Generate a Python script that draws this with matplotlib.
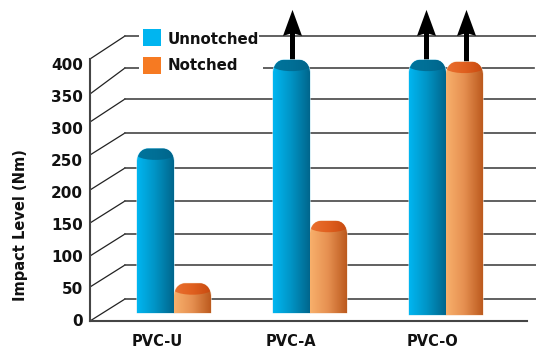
"""Impact level of PVC grades, drawn as 3D-style cylinders on a perspective wall."""

import matplotlib

matplotlib.use("Agg")
import matplotlib.pyplot as plt
import numpy as np
from matplotlib.colors import LinearSegmentedColormap
from matplotlib.patches import PathPatch, Rectangle
from matplotlib.path import Path

categories = ["PVC-U", "PVC-A", "PVC-O"]
unnotched = [250, 385, 385]
notched = [45, 140, 382]
unnotched_off_scale = [False, True, True]
notched_off_scale = [False, False, True]
tick_values = [0, 50, 100, 150, 200, 250, 300, 350, 400]

# frame layout in pixels, bottom tick first
WALL_Y = [299, 265, 234, 201, 168, 133, 99, 68, 36]
FRONT_Y = [321, 287, 256, 223, 190, 155, 122, 94, 59]
LABEL_Y = [322, 290, 257, 226, 194, 162, 130, 97, 65]
WALL_X = 125
FRONT_X = 90
LABEL_X = [157, 290.5, 433]

W, H = 536, 354
BASE_PX = 313
PX_PER_VALUE = 0.6575
PX_PER_CAT = 136
FIRST_CAT_PX = 174
BAR_W = 37 / PX_PER_CAT
BASE_DROP = [0, 0, -3]

LINE = "#454545"
FONT = "DejaVu Sans"

BLUE = LinearSegmentedColormap.from_list("blue", ["#00b6f1", "#0093c4", "#00668c"])
BLUE_CAP = LinearSegmentedColormap.from_list("blue_cap", ["#00749c", "#006f96", "#00648a"])
ORANGE = LinearSegmentedColormap.from_list("orange", ["#f8b06c", "#e58f50", "#bc5a1e"])
ORANGE_CAP = LinearSegmentedColormap.from_list("orange_cap", ["#ea7030", "#e0601f", "#c84a10"])


def dome_path(x0, x1, top, base, dome):
    w = x1 - x0
    return Path(
        [(x0, base), (x0, top - dome), (x0, top - dome * 0.45), (x0 + 0.13 * w, top), (x0 + 0.3 * w, top),
         (x1 - 0.3 * w, top), (x1 - 0.13 * w, top), (x1, top - dome * 0.45), (x1, top - dome),
         (x1, base), (x0, base)],
        [Path.MOVETO, Path.LINETO, Path.CURVE4, Path.CURVE4, Path.CURVE4, Path.LINETO,
         Path.CURVE4, Path.CURVE4, Path.CURVE4, Path.LINETO, Path.CLOSEPOLY],
    )


def cap_path(x0, x1, top, dome):
    # dome outline above, shallow curve below so the cap reads as an ellipse
    w = x1 - x0
    left, right = x0 + 0.03 * w, x1 - 0.03 * w
    shoulder = top - dome * 0.62
    belly = top - dome * 0.95
    return Path(
        [(left, shoulder), (x0 + 0.05 * w, top - dome * 0.3), (x0 + 0.15 * w, top), (x0 + 0.3 * w, top),
         (x1 - 0.3 * w, top), (x1 - 0.15 * w, top), (x1 - 0.05 * w, top - dome * 0.3), (right, shoulder),
         (right - 0.2 * w, belly), (left + 0.2 * w, belly), (left, shoulder), (left, shoulder)],
        [Path.MOVETO, Path.CURVE4, Path.CURVE4, Path.CURVE4, Path.LINETO,
         Path.CURVE4, Path.CURVE4, Path.CURVE4, Path.CURVE4, Path.CURVE4, Path.CURVE4, Path.CLOSEPOLY],
    )


def shaded(ax, path, cmap, extent, zorder, edge="none"):
    patch = PathPatch(path, transform=ax.transData, facecolor="none", edgecolor=edge, lw=0.8, zorder=zorder - 0.5)
    ax.add_patch(patch)
    img = ax.imshow(
        np.linspace(0, 1, 128)[None, :], cmap=cmap, extent=extent, aspect="auto",
        interpolation="bilinear", zorder=zorder,
    )
    img.set_clip_path(patch)


def draw_cylinders(ax, rects, cmap, cap_cmap, off_scale, nudge, halo):
    dome = 13 / PX_PER_VALUE
    for rect, flag, dx in zip(rects, off_scale, nudge):
        x0, x1 = rect.get_x(), rect.get_x() + rect.get_width()
        base, top = rect.get_y(), rect.get_y() + rect.get_height()
        if flag:
            # shaft starts just inside the cap and runs off the scale
            ax.arrow(
                (x0 + x1) / 2 + dx / PX_PER_CAT, top - 5, 0, 461 - top + 5,
                width=5 / PX_PER_CAT, head_width=19 / PX_PER_CAT, head_length=26 / PX_PER_VALUE,
                length_includes_head=True, overhang=0.08, color="black", lw=0, zorder=3,
            )
        shaded(ax, dome_path(x0, x1, top, base, dome), cmap, (x0, x1, base, top), 4, edge=halo)
        shaded(ax, cap_path(x0, x1, top, dome), cap_cmap, (x0, x1, top - dome, top), 5)


def draw_frame(ax):
    for wall_y, front_y in zip(WALL_Y, FRONT_Y):
        ax.plot([FRONT_X, WALL_X], [front_y, wall_y], color="#222222", lw=0.9, zorder=1)
    for i, wall_y in enumerate(WALL_Y):
        ax.plot([WALL_X, 534 if i == 7 else 536], [wall_y, wall_y], color=LINE, lw=1.2, zorder=1)
    ax.plot([FRONT_X, FRONT_X], [FRONT_Y[-1], FRONT_Y[0]], color=LINE, lw=1.5, zorder=1)
    ax.plot([FRONT_X, 527], [FRONT_Y[0], FRONT_Y[0]], color=LINE, lw=1.5, zorder=1)

    for value, y in zip(tick_values, LABEL_Y):
        ax.text(83, y, str(value), ha="right", va="center", fontsize=11, fontweight="bold", family=FONT, color="#111111")
    for name, x in zip(categories, LABEL_X):
        ax.text(x, 341, name, ha="center", va="center", fontsize=10.5, fontweight="bold", family=FONT, color="#111111")
    ax.text(20.5, 225, "Impact Level (Nm)", rotation=90, ha="center", va="center", fontsize=10.5, fontweight="bold", family=FONT, color="#111111")

    # legend sits on white patches that interrupt the top two wall lines
    ax.add_patch(Rectangle((139, 30), 120, 10, facecolor="white", edgecolor="none", zorder=2))
    ax.add_patch(Rectangle((139, 60), 124, 14, facecolor="white", edgecolor="none", zorder=2))
    ax.add_patch(Rectangle((143, 29), 18, 17, facecolor="#00b5f0", edgecolor="none", zorder=3))
    ax.add_patch(Rectangle((143, 57), 18, 17, facecolor="#f67a22", edgecolor="none", zorder=3))
    ax.text(168, 39, "Unnotched", ha="left", va="center", fontsize=10.8, fontweight="bold", family=FONT, color="#111111", zorder=3)
    ax.text(168, 65, "Notched", ha="left", va="center", fontsize=10.8, fontweight="bold", family=FONT, color="#111111", zorder=3)


def main():
    fig = plt.figure(figsize=(W / 100, H / 100), dpi=100, facecolor="white")

    frame = fig.add_axes([0, 0, 1, 1])
    frame.set_xlim(0, W)
    frame.set_ylim(H, 0)
    frame.axis("off")
    draw_frame(frame)

    ax = fig.add_axes([0, 0, 1, 1])
    ax.patch.set_alpha(0)
    xlim = (-FIRST_CAT_PX / PX_PER_CAT, (W - FIRST_CAT_PX) / PX_PER_CAT)
    ylim = (-(H - BASE_PX) / PX_PER_VALUE, BASE_PX / PX_PER_VALUE)

    x = np.arange(len(categories))
    base = np.array(BASE_DROP)
    # bar rectangles give the geometry; the shading is painted over them
    rects_u = ax.bar(x - BAR_W / 2, np.array(unnotched) - base, BAR_W, bottom=base, color="none")
    rects_n = ax.bar(x + BAR_W / 2, np.array(notched) - base, BAR_W, bottom=base, color="none")
    draw_cylinders(ax, rects_u, BLUE, BLUE_CAP, unnotched_off_scale, [0, 1, -1], "#bfe6f4")
    draw_cylinders(ax, rects_n, ORANGE, ORANGE_CAP, notched_off_scale, [0, 0, 2], "#f6dcc6")

    ax.set_xlim(*xlim)
    ax.set_ylim(*ylim)
    ax.axis("off")

    fig.savefig("out.png", dpi=100)
    plt.close(fig)


if __name__ == "__main__":
    main()
